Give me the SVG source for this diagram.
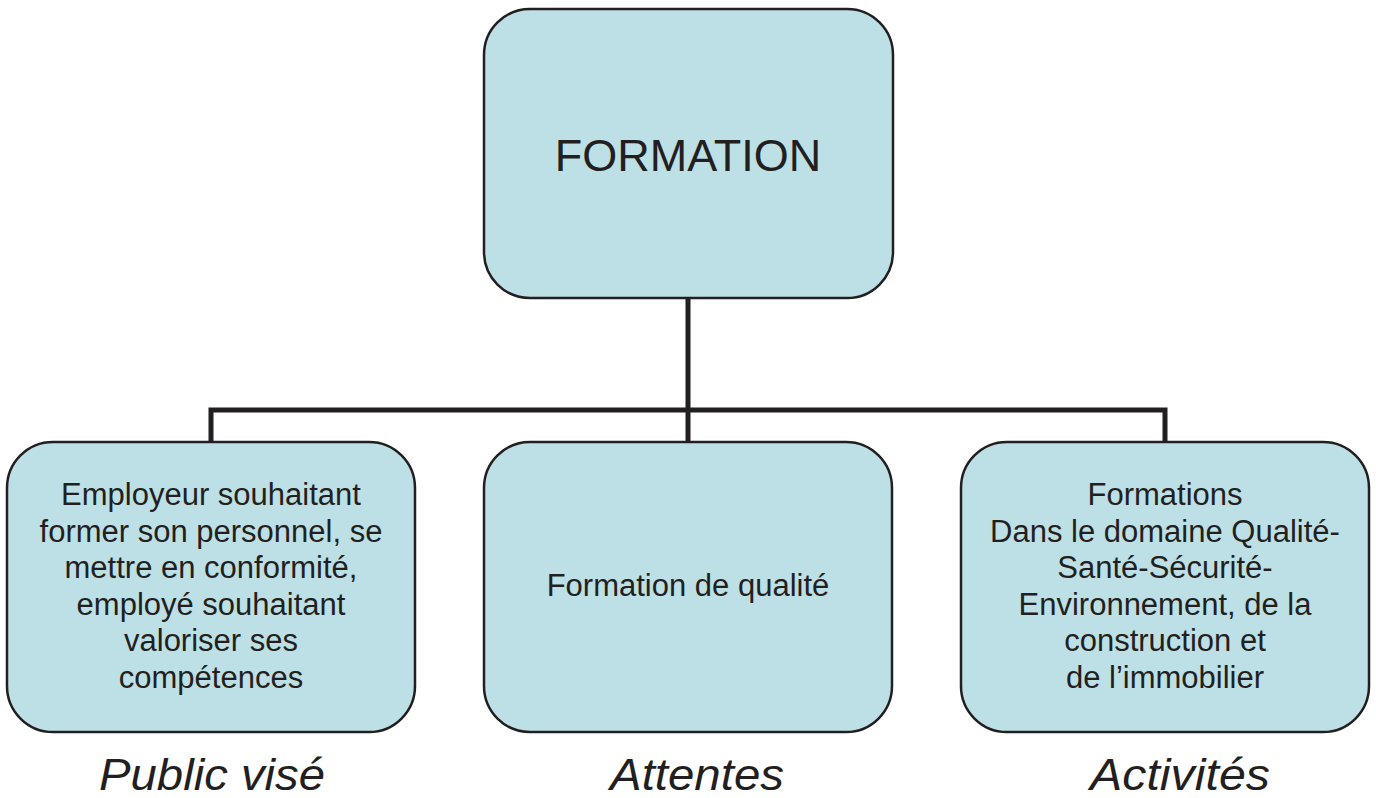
<svg xmlns="http://www.w3.org/2000/svg" width="1376" height="798" viewBox="0 0 1376 798">
<style>
.box{fill:#bce0e5;stroke:#231f20;stroke-width:2.5}
.t{font-family:"Liberation Sans",Arial,sans-serif;fill:#231f20;text-anchor:middle}
.b{font-size:31px}
.lab{font-family:"Liberation Sans",Arial,sans-serif;fill:#231f20;font-style:italic;font-size:45px;text-anchor:middle}
.c{fill:none;stroke:#231f20;stroke-width:5}
</style>
<rect width="1376" height="798" fill="#fff"/>
<g id="connectors">
<path class="c" d="M688 298V410M211 442V410H1165V442M688 410V442"/>
</g>
<g id="formation">
<rect class="box" x="484" y="9" width="409" height="289" rx="46"/>
<text class="t" x="688" y="171" font-size="45">FORMATION</text>
</g>
<g id="public">
<rect class="box" x="7" y="442" width="408" height="290" rx="46"/>
<text class="t b" x="211"><tspan x="211" y="505">Employeur souhaitant</tspan><tspan x="211" y="541.5">former son personnel, se</tspan><tspan x="211" y="578">mettre en conformité,</tspan><tspan x="211" y="614.5">employé souhaitant</tspan><tspan x="211" y="651">valoriser ses</tspan><tspan x="211" y="687.5">compétences</tspan></text>
</g>
<g id="attentes">
<rect class="box" x="484" y="442" width="408" height="290" rx="46"/>
<text class="t b" x="688" y="596">Formation de qualité</text>
</g>
<g id="activites">
<rect class="box" x="961" y="442" width="408" height="290" rx="46"/>
<text class="t b" x="1165"><tspan x="1165" y="505">Formations</tspan><tspan x="1165" y="541.5">Dans le domaine Qualité-</tspan><tspan x="1165" y="578">Santé-Sécurité-</tspan><tspan x="1165" y="614.5">Environnement, de la</tspan><tspan x="1165" y="651">construction et</tspan><tspan x="1165" y="687.5">de l’immobilier</tspan></text>
</g>
<g id="labels">
<text class="lab" x="212" y="790" textLength="226" lengthAdjust="spacingAndGlyphs">Public visé</text>
<text class="lab" x="697" y="790" textLength="174" lengthAdjust="spacingAndGlyphs">Attentes</text>
<text class="lab" x="1180" y="790" textLength="180" lengthAdjust="spacingAndGlyphs">Activités</text>
</g>
</svg>
